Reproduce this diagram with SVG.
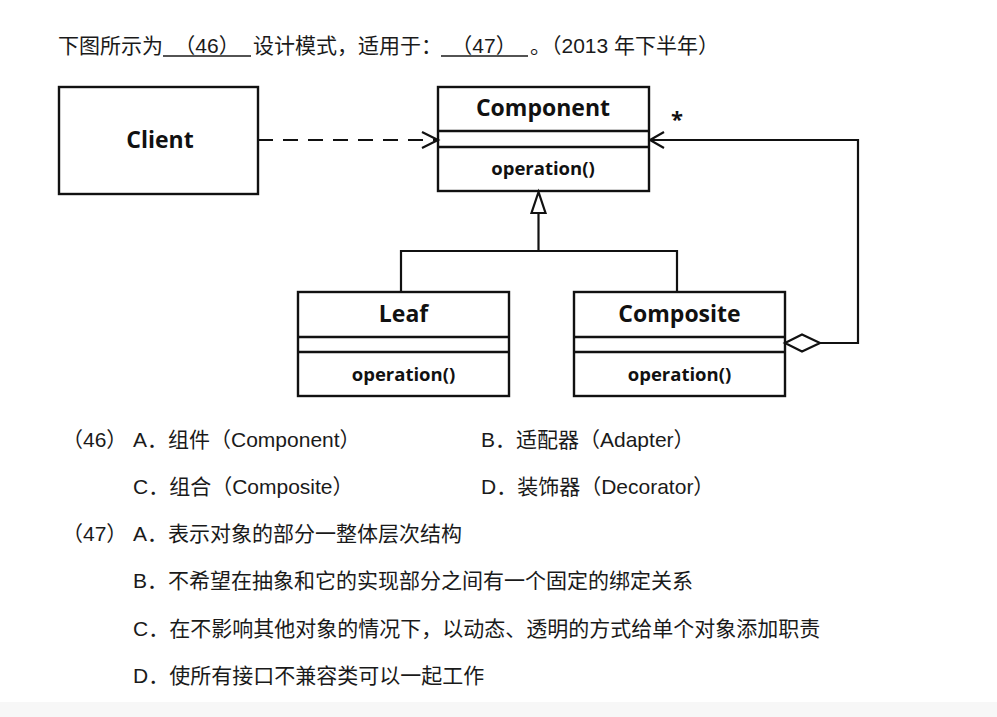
<svg xmlns="http://www.w3.org/2000/svg" width="997" height="717" viewBox="0 0 997 717">
<style>
.box{fill:#fff;stroke:#111;stroke-width:2.4}
.div{stroke:#111;stroke-width:2.4}
.cn{font-family:"Open Sans","DejaVu Sans",sans-serif;font-weight:bold;fill:#111;text-anchor:middle}
.t{font-family:"Liberation Sans","Noto Sans CJK SC",sans-serif;font-size:21px;fill:#1a1a1a}
.ln{fill:none;stroke:#111;stroke-width:2.2}
</style>
<rect width="997" height="717" fill="#fff"/>
<rect y="702" width="997" height="15" fill="#f7f7f7"/>
<g id="question">
<text class="t" x="58" y="53">下图所示为</text>
<line x1="163" y1="56" x2="251" y2="56" stroke="#1a1a1a" stroke-width="1.6"/>
<text class="t" x="207" y="53" text-anchor="middle">（46）</text>
<text class="t" x="253" y="53">设计模式，适用于：</text>
<line x1="441" y1="56" x2="528" y2="56" stroke="#1a1a1a" stroke-width="1.6"/>
<text class="t" x="484" y="53" text-anchor="middle">（47）</text>
<text class="t" x="530" y="53">。（2013 年下半年）</text>
</g>
<g id="client">
<rect class="box" x="59" y="87" width="199" height="107"/>
<text class="cn" x="160" y="148" font-size="23">Client</text>
</g>
<g id="component">
<rect class="box" x="438" y="87" width="211" height="104"/>
<line class="div" x1="438" y1="131" x2="649" y2="131"/>
<line class="div" x1="438" y1="147" x2="649" y2="147"/>
<text class="cn" x="543" y="116" font-size="23">Component</text>
<text class="cn" x="543" y="175" font-size="18.5">operation()</text>
</g>
<g id="leaf">
<rect class="box" x="298" y="292" width="211" height="104"/>
<line class="div" x1="298" y1="337" x2="509" y2="337"/>
<line class="div" x1="298" y1="352" x2="509" y2="352"/>
<text class="cn" x="403.5" y="322" font-size="23">Leaf</text>
<text class="cn" x="403.5" y="381" font-size="18.5">operation()</text>
</g>
<g id="composite">
<rect class="box" x="574" y="292" width="211" height="104"/>
<line class="div" x1="574" y1="337" x2="785" y2="337"/>
<line class="div" x1="574" y1="352" x2="785" y2="352"/>
<text class="cn" x="679.5" y="322" font-size="23">Composite</text>
<text class="cn" x="679.5" y="381" font-size="18.5">operation()</text>
</g>
<g id="connectors">
<line class="ln" x1="258" y1="140" x2="436" y2="140" stroke-dasharray="15 10"/>
<polyline class="ln" points="422,132 438,140 422,148"/>
<polygon points="538.5,192 531.5,213 545.5,213" fill="#fff" stroke="#111" stroke-width="2.2"/>
<polyline class="ln" points="538.5,213 538.5,251"/>
<polyline class="ln" points="401,292 401,251 677,251 677,292"/>
<polygon points="785,343 802,334.5 820,343 802,351.5" fill="#fff" stroke="#111" stroke-width="2.2"/>
<polyline class="ln" points="820,343 858,343 858,140 650,140"/>
<polyline class="ln" points="664,132 650,140 664,148"/>
<text class="cn" x="677" y="127" font-size="22">*</text>
</g>
<g id="options">
<text class="t" x="62" y="447">（46）</text>
<text class="t" x="133" y="447">A．组件（Component）</text>
<text class="t" x="481" y="447">B．适配器（Adapter）</text>
<text class="t" x="133" y="494">C．组合（Composite）</text>
<text class="t" x="481" y="494">D．装饰器（Decorator）</text>
<text class="t" x="62" y="541">（47）</text>
<text class="t" x="133" y="541">A．表示对象的部分一整体层次结构</text>
<text class="t" x="133" y="588">B．不希望在抽象和它的实现部分之间有一个固定的绑定关系</text>
<text class="t" x="133" y="636">C．在不影响其他对象的情况下，以动态、透明的方式给单个对象添加职责</text>
<text class="t" x="133" y="683">D．使所有接口不兼容类可以一起工作</text>
</g>
</svg>
